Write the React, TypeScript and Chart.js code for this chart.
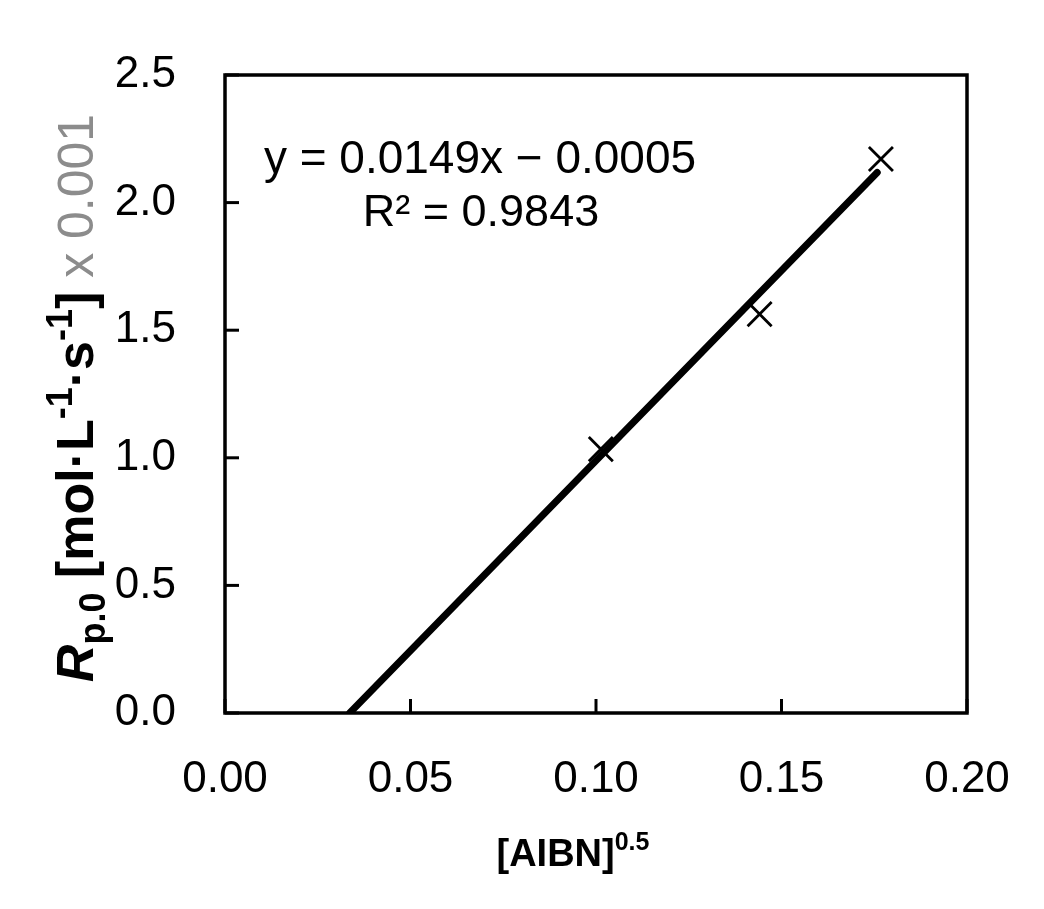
import React, { useEffect, useRef } from 'react';
import { Chart, registerables } from 'chart.js';

Chart.register(...registerables);

// ---- data ----
const xTickLabels = ['0.00', '0.05', '0.10', '0.15', '0.20'];
const yTickLabels = ['0.0', '0.5', '1.0', '1.5', '2.0', '2.5'];
const aibnSqrt = [0.1013, 0.1441, 0.1768];
const rateValues = [1.034, 1.563, 2.171];
const fitX = [0.0336, 0.1758];
const fitY = [0.0, 2.118];
const equationLine = 'y = 0.0149x \u2212 0.0005';
const r2Line = 'R\u00B2 = 0.9843';

const FONT = '"Liberation Sans", Arial, sans-serif';

type Part = { text: string; font: string; dy?: number; color?: string };

const yLabelParts: Part[] = [
  { text: 'R', font: `italic bold 52px ${FONT}` },
  { text: 'p.0', font: `bold 36px ${FONT}`, dy: 12 },
  { text: ' [mol\u00B7L', font: `bold 52px ${FONT}` },
  { text: '-1', font: `bold 36px ${FONT}`, dy: -21 },
  { text: '\u00B7s', font: `bold 52px ${FONT}` },
  { text: '-1', font: `bold 36px ${FONT}`, dy: -21 },
  { text: ']', font: `bold 52px ${FONT}` },
  { text: ' x 0.001', font: `50px ${FONT}`, color: '#8c8c8c' },
];

const xLabelParts: Part[] = [
  { text: '[AIBN]', font: `bold 38px ${FONT}` },
  { text: '0.5', font: `bold 25px ${FONT}`, dy: -16 },
];

function drawRich(ctx: CanvasRenderingContext2D, parts: Part[], x: number, y: number, angle: number) {
  ctx.save();
  ctx.translate(x, y);
  ctx.rotate(angle);
  let total = 0;
  for (const p of parts) {
    ctx.font = p.font;
    total += ctx.measureText(p.text).width;
  }
  let cx = -total / 2;
  ctx.textAlign = 'left';
  ctx.textBaseline = 'alphabetic';
  for (const p of parts) {
    ctx.font = p.font;
    ctx.fillStyle = p.color || '#000';
    ctx.fillText(p.text, cx, p.dy || 0);
    cx += ctx.measureText(p.text).width;
  }
  ctx.restore();
}

const framePlugin = {
  id: 'frameAndText',
  afterDatasetsDraw(chart: any) {
    const { ctx, chartArea: a, scales } = chart;
    ctx.save();
    ctx.strokeStyle = '#000';
    ctx.lineWidth = 3;
    for (const t of scales.x.ticks) {
      const px = scales.x.getPixelForValue(t.value);
      ctx.beginPath();
      ctx.moveTo(px, a.bottom);
      ctx.lineTo(px, a.bottom - 14);
      ctx.stroke();
    }
    for (const t of scales.y.ticks) {
      const py = scales.y.getPixelForValue(t.value);
      ctx.beginPath();
      ctx.moveTo(a.left, py);
      ctx.lineTo(a.left + 14, py);
      ctx.stroke();
    }
    ctx.lineWidth = 3.5;
    ctx.strokeRect(a.left, a.top, a.right - a.left, a.bottom - a.top);

    ctx.fillStyle = '#000';
    ctx.textAlign = 'center';
    ctx.textBaseline = 'middle';
    ctx.font = `46px ${FONT}`;
    ctx.fillText(equationLine, 480, 160);
    ctx.font = `45px ${FONT}`;
    ctx.fillText(r2Line, 481, 214);
    ctx.restore();

    drawRich(ctx, yLabelParts, 93, 398, -Math.PI / 2);
    drawRich(ctx, xLabelParts, 573, 866, 0);
  },
};

export default function App() {
  const ref = useRef<HTMLCanvasElement | null>(null);

  useEffect(() => {
    document.body.style.margin = '0';
    const canvas = ref.current;
    if (!canvas) return;
    const chart = new Chart(canvas, {
      type: 'scatter',
      data: {
        datasets: [
          {
            label: 'fit',
            data: fitX.map((x, i) => ({ x, y: fitY[i] })),
            showLine: true,
            borderColor: '#000',
            borderWidth: 7,
            borderCapStyle: 'round',
            pointRadius: 0,
            clip: 0,
          } as any,
          {
            label: 'data',
            data: aibnSqrt.map((x, i) => ({ x, y: rateValues[i] })),
            showLine: false,
            pointStyle: 'crossRot',
            pointRadius: 17,
            pointHoverRadius: 17,
            borderColor: '#000',
            backgroundColor: '#000',
            pointBorderWidth: 2.8,
            borderWidth: 2.8,
          },
        ],
      },
      options: {
        responsive: false,
        animation: false,
        devicePixelRatio: 1,
        layout: { padding: { left: 0, top: 75, right: 77, bottom: 0 } },
        plugins: {
          legend: { display: false },
          tooltip: { enabled: false },
        },
        events: [],
        scales: {
          x: {
            type: 'linear',
            min: 0,
            max: 0.2,
            grid: { display: false, drawTicks: false },
            border: { display: false },
            ticks: {
              stepSize: 0.05,
              padding: 40,
              color: '#000',
              font: { family: FONT, size: 44 },
              maxRotation: 0,
              callback: (_v: any, i: number) => xTickLabels[i],
            },
            afterFit: (s: any) => {
              s.height = 196;
              s.paddingLeft = 0;
              s.paddingRight = 0;
            },
          },
          y: {
            type: 'linear',
            min: 0,
            max: 2.5,
            grid: { display: false, drawTicks: false },
            border: { display: false },
            ticks: {
              stepSize: 0.5,
              padding: 49,
              color: '#000',
              font: { family: FONT, size: 44 },
              callback: (_v: any, i: number) => yTickLabels[i],
            },
            afterFit: (s: any) => {
              s.width = 225;
              s.paddingTop = 0;
              s.paddingBottom = 0;
            },
          },
        },
      },
      plugins: [framePlugin],
    });
    return () => chart.destroy();
  }, []);

  return (
    <div style={{ width: 1044, height: 909 }}>
      <canvas ref={ref} width={1044} height={909} style={{ display: 'block' }} />
    </div>
  );
}
